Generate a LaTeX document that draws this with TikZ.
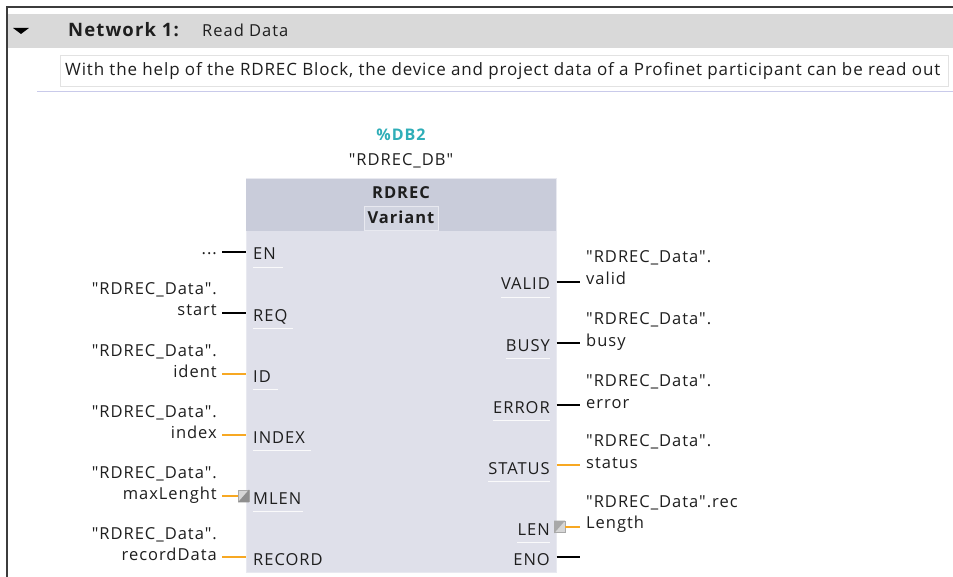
\documentclass[tikz,border=0pt]{standalone}
\usepackage{fontspec}
\newfontfamily\uifont{Open Sans}[LetterSpace=6]
\newfontfamily\notefont{Open Sans}[LetterSpace=5]
\definecolor{ink}{HTML}{1E1E1E}
\definecolor{bandgray}{HTML}{D9D9D9}
\definecolor{framegray}{HTML}{3C3C3C}
\definecolor{boxline}{HTML}{E2E2E2}
\definecolor{sepline}{HTML}{C9CAEA}
\definecolor{fbhead}{HTML}{C9CCDA}
\definecolor{fbbody}{HTML}{DFE0EA}
\definecolor{fbedge}{HTML}{E8E9F0}
\definecolor{dbteal}{HTML}{2FAEB8}
\definecolor{wireorange}{HTML}{F7A823}
\definecolor{sqedge}{HTML}{A8A8A8}
\definecolor{sqlight}{HTML}{D6D6D6}
\definecolor{sqdark}{HTML}{8E8E8E}
\newcommand{\txt}{\uifont\fontsize{16.5}{19}\selectfont}
\begin{document}
\begin{tikzpicture}[x=1pt,y=-1pt,
  lbl/.style={font=\txt, text=ink, inner sep=0pt},
  lblL/.style={lbl, anchor=base east},
  lblR/.style={lbl, anchor=base west},
  pinL/.style={lbl, anchor=base west},
  pinR/.style={lbl, anchor=base east},
  bwire/.style={line width=2.8pt, black},
  owire/.style={line width=2.8pt, wireorange},
  uline/.style={line width=0.9pt, white, opacity=0.85},
  convsq/.style={draw=sqedge, fill=sqlight, line width=0.8pt, minimum size=11pt, inner sep=0pt}
]
\useasboundingbox (0,0) rectangle (953,577);
\fill[white] (0,0) rectangle (953,577);

% network frame and title band
\fill[bandgray] (7,14) rectangle (953,48);
\draw[framegray, line width=2pt] (6.5,577) -- (6.5,7) -- (953,7);
\fill[black] (13,28) -- (29,28) -- (21,34) -- cycle;
\node[font=\uifont\fontsize{18.5}{22}\selectfont\bfseries, text=ink, anchor=base west, inner sep=0pt] (nettitle) at (68,37) {Network 1:};
\node[font=\txt, text=ink, anchor=base west, inner sep=0pt] (netname) at (202,37) {Read Data};

% network comment
\draw[boxline, fill=white, line width=0.8pt] (60,55.5) rectangle (948,86.5);
\node[font=\notefont\fontsize{17}{19}\selectfont, text=ink, anchor=base west, inner sep=0pt] (comment) at (65,76) {With the help of the RDREC Block, the device and project data of a Profinet participant can be read out};
\draw[sepline, line width=1pt] (37,92) -- (953,92);

% instance data block
\node[font=\uifont\fontsize{16}{18}\selectfont\bfseries, text=dbteal, anchor=base, inner sep=0pt] (dbnum) at (401,141) {\%DB2};
\node[lbl, anchor=base] (dbname) at (401,166) {"RDREC\_DB"};

% function block body and header
\node[draw=fbedge, fill=fbbody, line width=1pt, minimum width=310pt, minimum height=393pt, inner sep=0pt] (blk) at (401,375.5) {};
\fill[fbhead] ([shift={(0.5pt,-0.5pt)}]blk.north west) rectangle ([shift={(-0.5pt,-53pt)}]blk.north east);
\node[font=\txt\bfseries, text=ink, anchor=base, inner sep=0pt] (fbname) at (401,199) {RDREC};
\node[draw=fbedge, fill=fbhead!85!white, line width=0.8pt, minimum width=74pt, minimum height=24pt, inner sep=0pt] (fbtype) at (401.5,218) {};
\node[font=\txt\bfseries, text=ink, anchor=base, inner sep=0pt] (fbtypetxt) at (401,223.5) {Variant};

% input pins
\node[pinL] (pEN)  at (253,260) {EN};
\node[pinL] (pREQ) at (253,321) {REQ};
\node[pinL] (pID)  at (253,382) {ID};
\node[pinL] (pIDX) at (253,443) {INDEX};
\node[pinL] (pMLEN) at (253,504) {MLEN};
\node[pinL] (pREC) at (253,565) {RECORD};
\foreach \p/\len in {pEN/30, pREQ/40, pID/25, pIDX/58, pMLEN/50} {
  \draw[uline] ([yshift=-7pt]\p.base west) -- ++(\len,0);
}

% output pins
\node[pinR] (pVALID)  at (550,290) {VALID};
\node[pinR] (pBUSY)   at (550,351) {BUSY};
\node[pinR] (pERR)    at (550,413) {ERROR};
\node[pinR] (pSTAT)   at (550,474) {STATUS};
\node[pinR] (pLEN)    at (550,535) {LEN};
\node[pinR] (pENO)    at (550,565) {ENO};
\foreach \p in {pVALID, pBUSY, pERR, pSTAT, pLEN} {
  \draw[uline] ([yshift=-7pt]\p.base west) -- ([yshift=-7pt]\p.base east);
}

% input operands
\node[lblL] (oEN) at (217,255) {...};
\node[lblL] (oREQa) at (217,295) {"RDREC\_Data".};
\node[lblL] (oREQ)  at (217,316) {start};
\node[lblL] (oIDa)  at (217,356) {"RDREC\_Data".};
\node[lblL] (oID)   at (217,377) {ident};
\node[lblL] (oIDXa) at (217,417) {"RDREC\_Data".};
\node[lblL] (oIDX)  at (217,438) {index};
\node[lblL] (oMLENa) at (217,478) {"RDREC\_Data".};
\node[lblL] (oMLEN)  at (217,499) {maxLenght};
\node[lblL] (oRECa) at (217,539) {"RDREC\_Data".};
\node[lblL] (oREC)  at (217,560) {recordData};

% output operands
\node[lblR] (qVALIDa) at (586,263) {"RDREC\_Data".};
\node[lblR] (qVALID)  at (586,285) {valid};
\node[lblR] (qBUSYa)  at (586,324) {"RDREC\_Data".};
\node[lblR] (qBUSY)   at (586,346) {busy};
\node[lblR] (qERRa)   at (586,386) {"RDREC\_Data".};
\node[lblR] (qERR)    at (586,408) {error};
\node[lblR] (qSTATa)  at (586,446) {"RDREC\_Data".};
\node[lblR] (qSTAT)   at (586,468) {status};
\node[lblR] (qLENa)   at (586,507) {"RDREC\_Data".rec};
\node[lblR] (qLEN)    at (586,528) {Length};

% wire end points next to the operands
\coordinate (wEN)   at (222,252);
\coordinate (wREQ)  at (222,313);
\coordinate (wID)   at (222,374);
\coordinate (wIDX)  at (222,435);
\coordinate (wMLEN) at (222,496);
\coordinate (wREC)  at (222,557);
\coordinate (wVALID) at (580,282);
\coordinate (wBUSY)  at (580,343);
\coordinate (wERR)   at (580,405);
\coordinate (wSTAT)  at (580,465);
\coordinate (wLEN)   at (580,527);
\coordinate (wENO)   at (580,557);

% type conversion markers
\node[convsq] (cMLEN) at (243.5,496) {};
\fill[sqdark] ([shift={(0.4pt,-0.4pt)}]cMLEN.south west) -- ([shift={(-0.4pt,-0.4pt)}]cMLEN.south east) -- ([shift={(-0.4pt,0.4pt)}]cMLEN.north east) -- cycle;
\node[convsq] (cLEN) at (559.5,527) {};
\fill[sqedge] ([shift={(0.4pt,0.4pt)}]cLEN.north west) -- ([shift={(-0.4pt,0.4pt)}]cLEN.north east) -- ([shift={(0.4pt,-0.4pt)}]cLEN.south west) -- cycle;

% input wires
\draw[bwire] (wEN)  -- (wEN -| blk.west);
\draw[bwire] (wREQ) -- (wREQ -| blk.west);
\draw[owire] (wID)  -- (wID -| blk.west);
\draw[owire] (wIDX) -- (wIDX -| blk.west);
\draw[owire] (wMLEN) -- (cMLEN.west);
\draw[owire] (wREC) -- (wREC -| blk.west);

% output wires
\draw[bwire] (wVALID -| blk.east) -- (wVALID);
\draw[bwire] (wBUSY -| blk.east)  -- (wBUSY);
\draw[bwire] (wERR -| blk.east)   -- (wERR);
\draw[owire] (wSTAT -| blk.east)  -- (wSTAT);
\draw[owire] (cLEN.east) -- (wLEN);
\draw[bwire] (wENO -| blk.east)   -- (wENO);
\end{tikzpicture}
\end{document}
